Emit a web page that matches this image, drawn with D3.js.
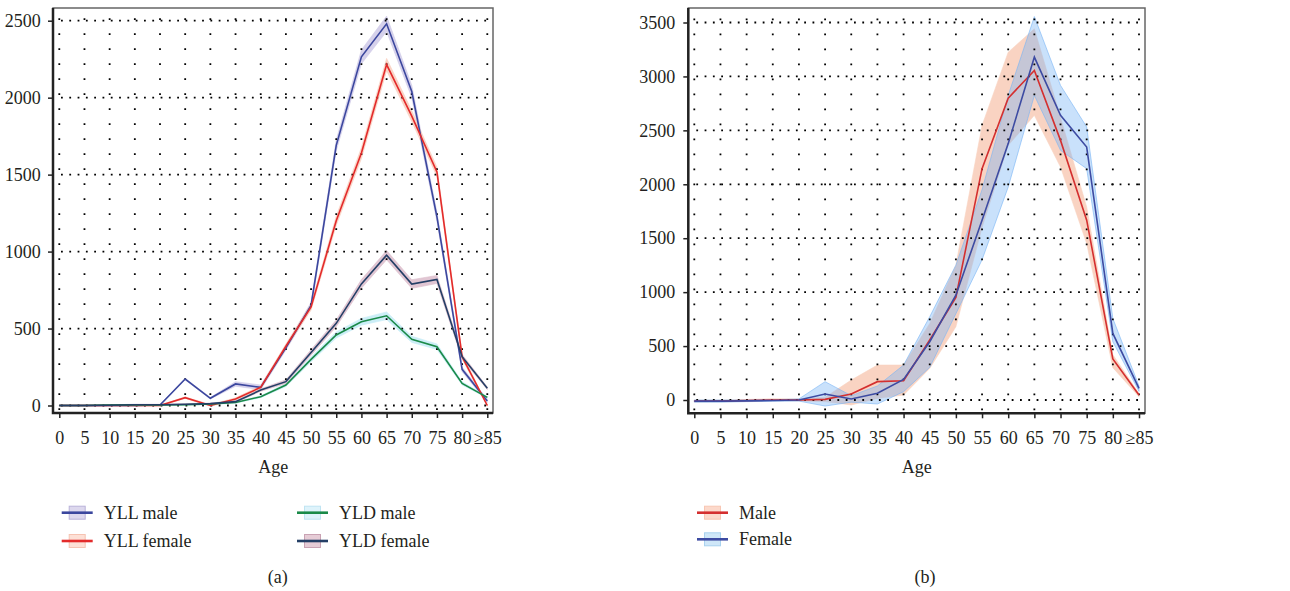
<!DOCTYPE html>
<html>
<head>
<meta charset="utf-8">
<script src="https://cdn.jsdelivr.net/npm/d3@7"></script>
<style>
  body { margin: 0; background: #fff; }
  text { font-family: "Liberation Serif", "DejaVu Serif", serif; fill: #231f20; }
</style>
</head>
<body>
<div id="vis"></div>
<script>
// data
let ages = [0, 5, 10, 15, 20, 25, 30, 35, 40, 45, 50, 55, 60, 65, 70, 75, 80, 85];
let ageLabels = ['0', '5', '10', '15', '20', '25', '30', '35', '40', '45', '50', '55', '60', '65', '70', '75', '80', '\u226585'];

// panel (a)
let yllMale = [0, 0, 0, 0, 3, 172, 47, 140, 118, 375, 650, 1690, 2265, 2480, 2040, 1226, 235, 30];
let yllFemale = [0, 0, 0, 0, 0, 51, 0, 42, 118, 385, 640, 1200, 1640, 2215, 1880, 1518, 317, 0];
let yldMale = [0, 0, 3, 5, 3, 5, 10, 20, 57, 133, 300, 458, 544, 583, 430, 382, 144, 53];
let yldFemale = [0, 0, 2, 5, 5, 8, 12, 25, 100, 155, 345, 534, 790, 977, 789, 819, 317, 112];
// half widths of the shaded bands
let yllMaleHw = [2, 2, 3, 3, 3, 5, 5, 15, 15, 15, 20, 35, 45, 50, 40, 30, 15, 10];
let yllFemaleHw = [2, 2, 3, 3, 3, 5, 5, 8, 10, 15, 20, 30, 35, 40, 35, 30, 15, 5];
let yldMaleHw = [1, 1, 2, 3, 3, 3, 4, 5, 6, 10, 15, 20, 22, 25, 20, 18, 10, 5];
let yldFemaleHw = [1, 1, 2, 3, 3, 3, 4, 5, 8, 12, 18, 22, 28, 30, 28, 26, 15, 8];
let ticksA = [0, 500, 1000, 1500, 2000, 2500];

// panel (b)
let maleB = [-10, -10, -5, 0, 0, 6, 55, 170, 179, 556, 951, 2145, 2799, 3056, 2407, 1667, 380, 46];
let maleLo = [-20, -18, -12, -8, -10, -15, -46, 15, 46, 293, 679, 1600, 2361, 2639, 2160, 1451, 300, 30];
let maleHi = [0, 0, 5, 12, 10, 25, 185, 324, 324, 710, 1250, 2546, 3225, 3441, 2620, 1790, 420, 60];
let femaleB = [-10, -10, -8, -5, 0, 55, 9, 62, 191, 540, 972, 1667, 2377, 3179, 2639, 2345, 617, 108];
let femaleLo = [-20, -20, -15, -12, -10, -56, -20, -37, 77, 303, 800, 1300, 1975, 2824, 2315, 2145, 540, 80];
let femaleHi = [0, 0, 0, 2, 10, 170, 40, 130, 324, 772, 1250, 1950, 2824, 3555, 2917, 2531, 756, 130];
let ticksB = [0, 500, 1000, 1500, 2000, 2500, 3000, 3500];

let svg = d3.select('#vis')
    .append('svg')
    .attr('width', 1290)
    .attr('height', 591)
    .style('background-color', '#fff');

function makePanel(p) {
    let g = svg.append('g');
    let x = d3.scaleLinear().domain([0, 85]).range(p.xr);
    let y = d3.scaleLinear().domain([0, p.ymax]).range(p.yr);

    // bands
    p.series.forEach(s => {
        let area = d3.area()
            .x((d, i) => x(ages[i]))
            .y0((d, i) => y(s.lo[i]))
            .y1((d, i) => y(s.hi[i]));
        g.append('path')
            .datum(s.values)
            .attr('d', area)
            .attr('fill', s.band)
            .attr('fill-opacity', s.bandOpacity)
            .attr('stroke', s.band)
            .attr('stroke-opacity', 0.6)
            .attr('stroke-width', 1);
    });

    // dotted grid
    g.selectAll('.vgrid')
        .data(ages)
        .join('line')
        .attr('x1', d => x(d)).attr('x2', d => x(d))
        .attr('y1', p.frame.bottom - 3).attr('y2', p.frame.top + 2)
        .attr('stroke', '#000')
        .attr('stroke-width', 1.8)
        .attr('stroke-dasharray', '1.8,13.2');
    g.selectAll('.hgrid')
        .data(p.ticks)
        .join('line')
        .attr('x1', p.frame.left + 8).attr('x2', p.frame.right - 2)
        .attr('y1', d => y(d)).attr('y2', d => y(d))
        .attr('stroke', '#000')
        .attr('stroke-width', 1.8)
        .attr('stroke-dasharray', '1.8,6.5');

    // lines
    p.series.forEach(s => {
        let line = d3.line()
            .x((d, i) => x(ages[i]))
            .y(d => y(d));
        g.append('path')
            .datum(s.values)
            .attr('d', line)
            .attr('fill', 'none')
            .attr('stroke', s.color)
            .attr('stroke-width', 1.6);
    });

    // frame
    g.append('rect')
        .attr('x', p.frame.left).attr('y', p.frame.top)
        .attr('width', p.frame.right - p.frame.left)
        .attr('height', p.frame.bottom - p.frame.top)
        .attr('fill', 'none')
        .attr('stroke', '#666')
        .attr('stroke-width', 1.5);
    g.append('path')
        .attr('d', `M${p.frame.left},${p.frame.top}V${p.frame.bottom}H${p.frame.right}`)
        .attr('fill', 'none')
        .attr('stroke', '#222')
        .attr('stroke-width', 2.5);

    // axes
    let xAxis = g.append('g')
        .attr('transform', `translate(0,${p.frame.bottom})`)
        .call(d3.axisBottom(x).tickValues(ages).tickFormat((d, i) => ageLabels[i]).tickSize(5).tickPadding(13));
    let yAxis = g.append('g')
        .attr('transform', `translate(${p.frame.left},0)`)
        .call(d3.axisLeft(y).tickValues(p.ticks).tickFormat(d3.format('d')).tickSize(5).tickPadding(p.ypad));
    [xAxis, yAxis].forEach(a => {
        a.attr('font-family', '"Liberation Serif", serif').attr('font-size', 18);
        a.select('.domain').remove();
        a.selectAll('line').attr('stroke', '#222').attr('stroke-width', 1.5);
        a.selectAll('text').attr('fill', '#231f20');
    });

    g.append('text')
        .attr('x', (p.xr[0] + p.xr[1]) / 2)
        .attr('y', 472.5)
        .attr('text-anchor', 'middle')
        .style('font-size', '18px')
        .text('Age');

    // legend
    p.legend.forEach(l => {
        let s = p.series[l.idx];
        let lg = g.append('g').attr('transform', `translate(${l.x},${l.y})`);
        lg.append('rect')
            .attr('x', 7.5).attr('y', -6.5)
            .attr('width', 16).attr('height', 13)
            .attr('fill', s.legendFill)
            .attr('stroke', s.legendStroke)
            .attr('stroke-width', 1);
        lg.append('line')
            .attr('x1', 0).attr('x2', 31)
            .attr('stroke', s.color)
            .attr('stroke-width', 2.6);
        lg.append('text')
            .attr('x', 42)
            .attr('y', 6)
            .style('font-size', '18px')
            .text(s.name);
    });

    g.append('text')
        .attr('x', p.captionX)
        .attr('y', 583)
        .attr('text-anchor', 'middle')
        .style('font-size', '18px')
        .text(p.caption);
}

function withHw(v, hw, sign) {
    return v.map((d, i) => d + sign * hw[i]);
}

makePanel({
    xr: [59.3, 487.3],
    yr: [405.5, 20.7],
    ymax: 2500,
    ticks: ticksA,
    ypad: 7.3,
    frame: { left: 53, right: 493, top: 8, bottom: 413 },
    caption: '(a)',
    captionX: 277.7,
    series: [
        { name: 'YLL male', values: yllMale, lo: withHw(yllMale, yllMaleHw, -1), hi: withHw(yllMale, yllMaleHw, 1),
          color: '#3b479e', band: '#cfc9e8', bandOpacity: 0.85, legendFill: '#ddd8ee', legendStroke: '#b9b2d9' },
        { name: 'YLL female', values: yllFemale, lo: withHw(yllFemale, yllFemaleHw, -1), hi: withHw(yllFemale, yllFemaleHw, 1),
          color: '#e32b2b', band: '#f9cdbd', bandOpacity: 0.85, legendFill: '#fde0d6', legendStroke: '#f6c3b2' },
        { name: 'YLD male', values: yldMale, lo: withHw(yldMale, yldMaleHw, -1), hi: withHw(yldMale, yldMaleHw, 1),
          color: '#1a8a48', band: '#c6ecf6', bandOpacity: 0.9, legendFill: '#def3fb', legendStroke: '#bfe4f2' },
        { name: 'YLD female', values: yldFemale, lo: withHw(yldFemale, yldFemaleHw, -1), hi: withHw(yldFemale, yldFemaleHw, 1),
          color: '#243f66', band: '#dcbccb', bandOpacity: 0.85, legendFill: '#e6ccd6', legendStroke: '#c9a2b3' }
    ],
    legend: [
        { idx: 0, x: 61.7, y: 512.7 },
        { idx: 1, x: 61.7, y: 541 },
        { idx: 2, x: 297, y: 512.7 },
        { idx: 3, x: 297, y: 541 }
    ]
});

makePanel({
    xr: [694.3, 1139],
    yr: [400, 22.5],
    ymax: 3500,
    ticks: ticksB,
    ypad: 8,
    frame: { left: 688.3, right: 1145, top: 8, bottom: 413.3 },
    caption: '(b)',
    captionX: 925,
    series: [
        { name: 'Male', values: maleB, lo: maleLo, hi: maleHi,
          color: '#d42f2f', band: '#f9d3c2', bandOpacity: 1, legendFill: '#fcd9cb', legendStroke: '#f8c6b3' },
        { name: 'Female', values: femaleB, lo: femaleLo, hi: femaleHi,
          color: '#3d4ba2', band: '#78b4f5', bandOpacity: 0.4, legendFill: '#cfe7f8', legendStroke: '#a9d2ef' }
    ],
    legend: [
        { idx: 0, x: 697, y: 512.7 },
        { idx: 1, x: 697, y: 539.3 }
    ]
});
</script>
</body>
</html>
